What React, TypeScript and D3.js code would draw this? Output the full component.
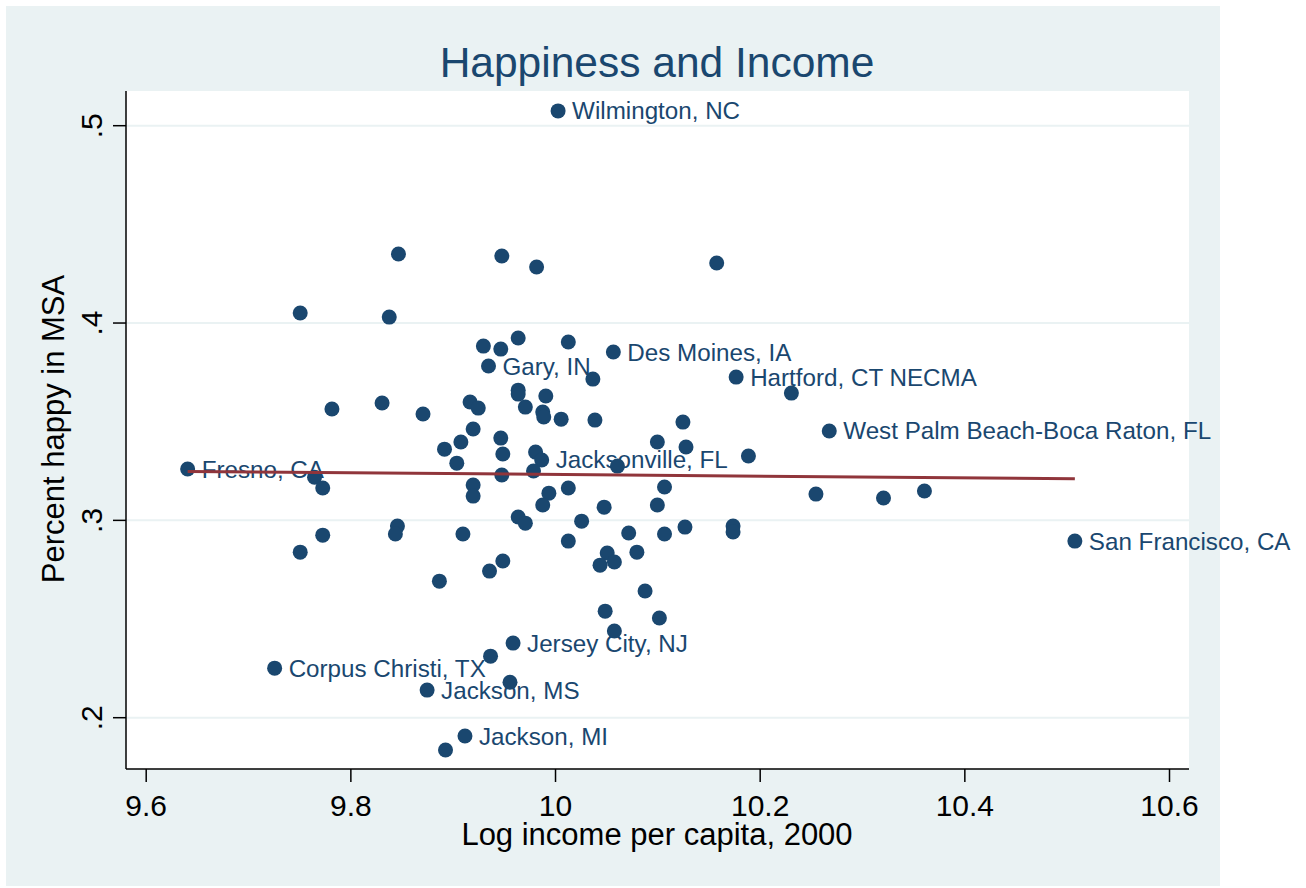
import React, { useEffect, useRef } from "react";
import * as d3 from "d3";

// log income per capita (x) and share happy (y), one entry per MSA
const logIncome = [
  10.003, 9.847, 9.948, 9.982, 10.158, 9.751, 9.838, 9.930, 9.947, 9.964,
  10.013, 10.057, 9.935, 10.037, 10.177, 10.231, 9.964, 9.964, 9.991, 9.971,
  9.988, 9.989, 10.006, 10.039, 10.125, 9.782, 9.831, 9.871, 9.917, 9.925,
  9.920, 9.908, 9.892, 9.904, 9.947, 9.949, 9.981, 9.987, 9.979, 9.948,
  10.100, 10.128, 10.189, 10.268, 10.061, 9.641, 9.765, 9.773, 9.920, 9.920,
  9.994, 10.013, 10.107, 9.988, 10.048, 10.100, 10.255, 10.321, 10.361, 9.964,
  9.971, 10.026, 9.846, 9.844, 9.773, 9.910, 10.013, 10.072, 10.107, 10.127,
  10.174, 10.174, 10.508, 9.751, 9.887, 9.936, 9.949, 10.051, 10.044, 10.058,
  10.080, 10.088, 10.049, 10.102, 10.058, 9.959, 9.937, 9.726, 9.956, 9.875,
  9.912, 9.893,
];

const pctHappy = [
  0.5075, 0.435, 0.434, 0.4284, 0.4304, 0.4051, 0.403, 0.3883, 0.3868, 0.3924,
  0.3904, 0.3853, 0.3782, 0.3716, 0.3726, 0.3645, 0.366, 0.364, 0.363, 0.3574,
  0.3549, 0.3524, 0.3513, 0.3508, 0.3498, 0.3564, 0.3595, 0.3539, 0.36, 0.3569,
  0.3463, 0.3397, 0.3361, 0.329, 0.3417, 0.3336, 0.3346, 0.3306, 0.325, 0.323,
  0.3397, 0.3372, 0.3326, 0.3453, 0.3275, 0.326, 0.3219, 0.3164, 0.3179, 0.3123,
  0.3138, 0.3164, 0.3169, 0.3078, 0.3067, 0.3078, 0.3133, 0.3113, 0.3149, 0.3017,
  0.2986, 0.2996, 0.2971, 0.2931, 0.2925, 0.2931, 0.2895, 0.2936, 0.2931, 0.2966,
  0.2971, 0.2941, 0.2895, 0.2839, 0.2692, 0.2743, 0.2794, 0.2834, 0.2773, 0.2789,
  0.2839, 0.2642, 0.254, 0.2505, 0.2439, 0.2378, 0.2312, 0.2251, 0.218, 0.214,
  0.1907, 0.1836,
];

// marker labels by point index
const cityLabels: Record<number, string> = {
  0: "Wilmington, NC",
  11: "Des Moines, IA",
  12: "Gary, IN",
  14: "Hartford, CT NECMA",
  37: "Jacksonville, FL",
  43: "West Palm Beach-Boca Raton, FL",
  45: "Fresno, CA",
  72: "San Francisco, CA",
  85: "Jersey City, NJ",
  87: "Corpus Christi, TX",
  89: "Jackson, MS",
  90: "Jackson, MI",
};

const xTicks = [9.6, 9.8, 10, 10.2, 10.4, 10.6];
const yTicks = [0.2, 0.3, 0.4, 0.5];

// fitted line endpoints
const fitLine: [number, number][] = [
  [9.641, 0.3248],
  [10.508, 0.3211],
];

const navy = "#1a476f";
const font = "'Liberation Sans', Arial, sans-serif";

export default function App() {
  const ref = useRef<SVGSVGElement>(null);

  useEffect(() => {
    const svg = d3.select(ref.current);
    svg.selectAll("*").remove();

    const left = 126, right = 1189, top = 91, bottom = 769;

    const x = d3.scaleLinear().domain([9.6, 10.6]).range([145.7, 1169]);
    const y = d3.scaleLinear().domain([0.2, 0.5]).range([717.7, 125.7]);

    // backgrounds
    svg.append("rect")
      .attr("x", 6).attr("y", 6)
      .attr("width", 1214).attr("height", 880)
      .attr("fill", "#eaf2f3");
    svg.append("rect")
      .attr("x", left).attr("y", top)
      .attr("width", right - left).attr("height", bottom - top)
      .attr("fill", "#ffffff");

    // grid
    svg.append("g")
      .selectAll("line")
      .data(yTicks)
      .join("line")
      .attr("x1", left).attr("x2", right)
      .attr("y1", (d) => y(d)).attr("y2", (d) => y(d))
      .attr("stroke", "#eaf2f3")
      .attr("stroke-width", 2);

    // x axis
    const gx = svg.append("g")
      .attr("transform", "translate(0," + bottom + ")")
      .call(
        d3.axisBottom(x)
          .tickValues(xTicks)
          .tickSize(13)
          .tickSizeOuter(0)
          .tickPadding(13)
          .tickFormat((d) => String(d))
      );
    gx.select(".domain").remove();
    gx.selectAll("line").attr("stroke", "#000").attr("stroke-width", 1.5);
    gx.selectAll("text")
      .attr("font-family", font)
      .attr("font-size", 30)
      .attr("fill", "#000");

    // y axis ticks + rotated labels
    const gy = svg.append("g");
    gy.selectAll("line")
      .data(yTicks)
      .join("line")
      .attr("x1", left - 13).attr("x2", left)
      .attr("y1", (d) => y(d)).attr("y2", (d) => y(d))
      .attr("stroke", "#000").attr("stroke-width", 1.5);
    gy.selectAll("text")
      .data(yTicks)
      .join("text")
      .attr("transform", (d) => `translate(102,${y(d)}) rotate(-90)`)
      .attr("text-anchor", "middle")
      .attr("font-family", font)
      .attr("font-size", 30)
      .text((d) => String(d).replace(/^0/, ""));

    // axis lines
    svg.append("line")
      .attr("x1", left).attr("x2", left)
      .attr("y1", top).attr("y2", bottom)
      .attr("stroke", "#000").attr("stroke-width", 1.5);
    svg.append("line")
      .attr("x1", left).attr("x2", right)
      .attr("y1", bottom).attr("y2", bottom)
      .attr("stroke", "#000").attr("stroke-width", 1.5);

    // titles
    svg.append("text")
      .attr("x", 657).attr("y", 77)
      .attr("text-anchor", "middle")
      .attr("font-family", font)
      .attr("font-size", 42.5)
      .attr("fill", navy)
      .text("Happiness and Income");
    svg.append("text")
      .attr("x", 657).attr("y", 845)
      .attr("text-anchor", "middle")
      .attr("font-family", font)
      .attr("font-size", 31)
      .text("Log income per capita, 2000");
    svg.append("text")
      .attr("transform", "translate(64,429) rotate(-90)")
      .attr("text-anchor", "middle")
      .attr("font-family", font)
      .attr("font-size", 31)
      .text("Percent happy in MSA");

    const idx = d3.range(logIncome.length);

    // marker labels
    svg.append("g")
      .selectAll("text")
      .data(idx.filter((i) => cityLabels[i]))
      .join("text")
      .attr("x", (i) => x(logIncome[i]) + 14)
      .attr("y", (i) => y(pctHappy[i]) + 8.5)
      .attr("font-family", font)
      .attr("font-size", 24.2)
      .attr("fill", navy)
      .text((i) => cityLabels[i]);

    // markers
    svg.append("g")
      .selectAll("circle")
      .data(idx)
      .join("circle")
      .attr("cx", (i) => x(logIncome[i]))
      .attr("cy", (i) => y(pctHappy[i]))
      .attr("r", 7.5)
      .attr("fill", navy);

    // fitted line
    svg.append("path")
      .datum(fitLine)
      .attr("fill", "none")
      .attr("stroke", "#90353b")
      .attr("stroke-width", 3)
      .attr("d", d3.line().x((d) => x(d[0])).y((d) => y(d[1])));
  }, []);

  return (
    <svg
      ref={ref}
      width={1306}
      height={888}
      style={{ position: "absolute", left: 0, top: 0, background: "#fff" }}
    />
  );
}
